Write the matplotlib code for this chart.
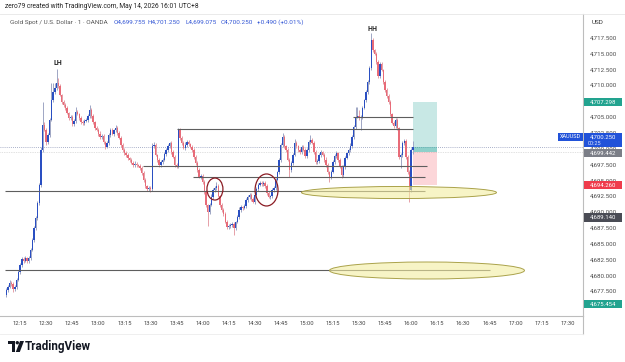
import matplotlib
matplotlib.use("Agg")
import matplotlib.pyplot as plt
from matplotlib.patches import Rectangle, Ellipse, Circle, Polygon
import numpy as np

# ---------------- data ----------------
start_minute = 12 * 60 + 7          # first 1-minute candle 12:07
first_open = 4676.9
closes = [
    4677.7, 4678.2, 4678.8, 4678.6, 4677.8, 4678.2, 4679.3, 4680.5, 4681.6, 4682.6,
    4682.3, 4682.7, 4682.3, 4682.7, 4684.0, 4685.6, 4687.5, 4689.0, 4691.4, 4694.2,
    4699.8, 4703.7, 4702.9, 4701.0, 4702.1, 4704.5, 4707.6, 4708.9, 4709.5, 4710.3,
    4709.9, 4708.4, 4707.3, 4706.9, 4706.4, 4705.6, 4704.8, 4705.0, 4703.9, 4704.3,
    4705.8, 4705.4, 4704.8, 4704.2, 4704.0, 4704.3, 4704.5, 4705.1, 4706.1, 4705.1,
    4704.2, 4703.2, 4702.9, 4702.3, 4701.8, 4702.0, 4701.0, 4700.2, 4700.9, 4702.1,
    4702.9, 4702.3, 4702.9, 4703.2, 4702.4, 4701.7, 4700.6, 4699.8, 4699.3, 4699.0,
    4698.5, 4698.2, 4697.7, 4697.4, 4697.6, 4697.4, 4697.2, 4696.9, 4696.1, 4695.0,
    4694.1, 4693.6, 4693.8, 4693.6, 4700.4, 4700.6, 4699.0, 4698.2, 4697.4, 4697.9,
    4698.2, 4699.1, 4699.8, 4700.4, 4700.9, 4699.4, 4698.7, 4697.4, 4697.2, 4702.9,
    4701.7, 4700.9, 4700.1, 4700.6, 4701.0, 4700.7, 4700.2, 4699.8, 4698.7, 4697.7,
    4696.6, 4695.5, 4695.7, 4694.7, 4693.1, 4691.1, 4690.0, 4691.1, 4692.4, 4693.5,
    4693.8, 4694.1, 4692.5, 4691.1, 4690.3, 4689.7, 4688.4, 4687.6, 4687.8, 4687.9,
    4688.1, 4687.5, 4688.4, 4689.2, 4690.3, 4690.8, 4690.6, 4690.9, 4691.9, 4692.4,
    4692.7, 4692.0, 4691.6, 4692.7, 4693.6, 4694.2, 4694.6, 4694.4, 4694.6, 4694.1,
    4693.0, 4692.4, 4692.5, 4693.5, 4693.8, 4695.0, 4696.3, 4698.2, 4700.6, 4701.8,
    4700.4, 4699.8, 4698.2, 4696.6, 4697.7, 4699.0, 4700.9, 4700.4, 4699.8, 4699.4,
    4700.2, 4699.8, 4698.8, 4699.8, 4701.0, 4701.3, 4700.9, 4699.4, 4697.9, 4698.0,
    4699.0, 4699.4, 4699.0, 4698.2, 4697.4, 4696.3, 4695.5, 4696.3, 4697.9, 4698.8,
    4699.3, 4698.2, 4697.1, 4695.8, 4697.1, 4698.5, 4699.3, 4699.8, 4700.4, 4701.8,
    4703.4, 4705.0, 4705.1, 4704.8, 4705.0, 4706.4, 4707.6, 4708.9, 4710.5, 4712.7,
    4717.1, 4715.5, 4714.9, 4713.6, 4711.4, 4713.3, 4712.4, 4710.5, 4709.2, 4708.3,
    4707.3, 4705.4, 4704.0, 4703.5, 4704.5, 4703.2, 4698.7, 4699.0, 4700.9, 4701.2,
    4698.7, 4696.3, 4693.4, 4699.755, 4700.25,
]
upper_wick = [
    .3, .2, .4, .3, .3, .2, .3, .3, .4, .3,
    .3, .4, .2, .3, .3, .2, .3, .3, .3, .4,
    .5, 3.6, .5, .3, .4, .3, 2.8, 1.5, .8, 2.2,
    .8, .3, .2, .4, .3, .3, .2, .3, .3, .3,
    .7, .3, .2, .3, .3, .4, .3, .3, .8, .3,
    .3, .2, .3, .3, .4, .3, .3, .2, .3, .4,
    .3, .3, .2, .5, .3, .3, .3, .2, .3, .3,
    .3, .2, .3, .3, .4, .3, .2, .3, .3, .3,
    .3, .2, .3, .3, .5, .4, .3, .2, .3, .3,
    .3, .3, .2, .3, .1, .3, .3, .2, .3, .4,
    .3, .2, .3, .4, .3, .3, .2, .3, .3, .3,
    .3, .3, .2, .3, .3, .3, .2, .3, .4, .3,
    .3, .6, .3, .2, .3, .3, .2, .3, .3, .3,
    .3, .3, .2, .3, .4, .3, .2, .3, .3, .3,
    .3, .2, .3, .3, .3, .4, .3, .2, .3, .3,
    .3, .3, .2, .3, .3, .3, .2, .3, .3, .6,
    .3, .2, .3, .3, .3, .3, .6, .3, .2, .3,
    .3, .3, .2, .3, .3, .8, .3, .2, .3, .3,
    .3, .3, .2, .3, .4, .3, .2, .3, .3, .3,
    .3, .2, .3, .3, .3, .3, .2, .3, .4, .3,
    .3, 1.5, 1.4, 1.0, .3, .3, .2, .3, .3, .3,
    1.1, .3, .2, .3, .3, .4, .3, .2, .3, .3,
    .3, .3, .2, .3, .3, .3, .2, .3, .3, .3,
    .3, .2, .3, .3, 1.0,
]
lower_wick = [
    .3, .3, .2, .3, .5, .3, .3, .2, .3, .3,
    .3, .2, .3, .3, .3, .2, .3, .3, .3, .3,
    .3, .3, .2, .4, .3, .3, .2, .3, .3, .3,
    .3, .2, .3, .3, .3, .2, .3, .3, .3, .3,
    .3, .2, .3, .3, .3, .3, .2, .3, .3, .3,
    .3, .3, .2, .3, .3, .3, .3, .3, .2, .3,
    .3, .2, .3, .3, .3, .2, .3, .3, .3, .3,
    .3, .3, .2, .3, .3, .3, .2, .3, .3, .3,
    .3, .3, .3, .4, .3, .3, .2, .3, .3, .3,
    .3, .2, .3, .3, .3, .3, .2, .3, .3, .3,
    .3, .3, .2, .3, .3, .3, .2, .3, .3, .3,
    .3, .2, .3, .3, .3, .3, 2.3, .3, .2, .3,
    .3, .3, .2, .3, .3, .3, .2, .3, .3, .3,
    .3, 1.1, .3, .2, .3, .3, .3, .2, .3, .3,
    .3, .3, .2, .3, .3, .3, .2, .3, .3, .3,
    .3, .2, .3, .3, .3, .3, .2, .3, .3, .3,
    .3, .3, .2, 1.1, .3, .3, .2, .3, .3, .3,
    .3, .2, .3, .3, .3, .3, .2, .3, .3, .3,
    .3, .3, .2, .3, .3, .3, .8, .3, .2, .3,
    .3, .3, .2, .5, .3, .3, .2, .3, .3, .3,
    .3, .3, .2, .3, 1.9, .3, .2, .3, .3, .3,
    .3, .3, .2, .3, .3, .3, .2, .3, .3, .3,
    .3, .3, .2, .3, .3, .3, .3, 1.8, .3, .3,
    .3, .3, 1.8, .2, .68,
]

time_labels = ["12:15", "12:30", "12:45", "13:00", "13:15", "13:30", "13:45", "14:00",
               "14:15", "14:30", "14:45", "15:00", "15:15", "15:30", "15:45", "16:00",
               "16:15", "16:30", "16:45", "17:00", "17:15", "17:30"]
price_ticks = [4677.5, 4680.0, 4682.5, 4685.0, 4687.5, 4690.0, 4692.5, 4695.0, 4697.5,
               4700.0, 4702.5, 4705.0, 4707.5, 4710.0, 4712.5, 4715.0, 4717.5]

# drawn levels: price, start time, end time (minutes since midnight)
level_prices = [4693.3, 4680.83, 4703.07, 4705.0, 4697.2, 4695.45]
level_starts = [726.3, 726.3, 825.3, 926.5, 805.7, 834.5]
level_ends = [968.0, 1005.4, 961.1, 961.1, 969.1, 968.0]

current_price = 4700.25
entry_price = 4699.442
target_price = 4707.298
stop_price = 4694.260
other_label_prices = [4689.140, 4675.454]

header_title = "zero79 created with TradingView.com, May 14, 2026 16:01 UTC+8"
symbol_text = "Gold Spot / U.S. Dollar · 1 · OANDA"
ohlc_texts = ["O4,699.755", "H4,701.250", "L4,699.075", "C4,700.250", "+0.490 (+0.01%)"]

# ---------------- figure ----------------
plt.rcParams['font.family'] = ['Roboto', 'DejaVu Sans']
W, H = 625, 362
fig = plt.figure(figsize=(W / 100, H / 100), dpi=100)
fig.patch.set_facecolor('white')

ax_left, ax_right, ax_top, ax_bottom = 0, 583, 14, 316
ax = fig.add_axes([ax_left / W, 1 - ax_bottom / H, (ax_right - ax_left) / W, (ax_bottom - ax_top) / H])
ax.set_facecolor('white')

n = len(closes)
t = np.arange(n) + start_minute
c = np.array(closes)
o = np.array([first_open] + closes[:-1])
hi = np.maximum(o, c) + np.array(upper_wick)
lo = np.minimum(o, c) - np.array(lower_wick)
up = c >= o
UP, DN = '#2a4fc2', '#e86b78'
WUP, WDN = '#9ea6c4', '#e6a0a8'
body_col = np.where(up, UP, DN)
wick_col = np.where(up, WUP, WDN)

ax.vlines(t, lo, hi, colors=wick_col, lw=0.7, zorder=2)
ax.bar(t, np.maximum(np.abs(c - o), 0.1), bottom=np.minimum(o, c), width=0.78,
       color=body_col, lw=0, zorder=3)

# scale: pixel 0..583 <-> minutes, pixel 14..316 <-> price
px_per_min = 1.738
x0_min = start_minute - 6.2 / px_per_min
ax.set_xlim(x0_min, x0_min + 583 / px_per_min)
ax.set_ylim(4717.5 - (316 - 37.5) / 6.34, 4717.5 + (37.5 - 14) / 6.34)

# dotted current price lines
ax.axhline(current_price, color='#8e97b8', lw=0.6, ls=(0, (1, 1.5)), zorder=1)
ax.axhline(entry_price, color='#c4c4c4', lw=0.5, ls=(0, (1, 1.5)), zorder=1)

# horizontal levels
ax.hlines(level_prices, level_starts, level_ends, color='#5e5e5e', lw=0.8, zorder=4)

# position tool
px0, px1 = 961.1, 974.9
ax.add_patch(Rectangle((px0, entry_price), px1 - px0, target_price - entry_price,
                       facecolor='#26a69a', alpha=0.25, lw=0, zorder=1))
ax.add_patch(Rectangle((px0, entry_price), px1 - px0, current_price - entry_price,
                       facecolor='#26a69a', alpha=0.35, lw=0, zorder=1))
ax.add_patch(Rectangle((px0, stop_price), px1 - px0, entry_price - stop_price,
                       facecolor='#f23645', alpha=0.2, lw=0, zorder=1))

# ellipses
for cx, cy, w, h in [(953.0, 4693.05, 112.2, 1.9), (969.1, 4680.75, 112.2, 2.68)]:
    ax.add_patch(Ellipse((cx, cy), w, h, facecolor='#f3eda0', alpha=0.6, edgecolor='none', zorder=5))
    ax.add_patch(Ellipse((cx, cy), w, h, facecolor='none', edgecolor='#aaa24a', lw=0.7, zorder=5))

# circles
for cx, cy, w, h in [(847.1, 4693.6, 9.2, 3.47), (876.8, 4693.45, 13.2, 5.05)]:
    ax.add_patch(Ellipse((cx, cy), w, h, facecolor='none', edgecolor='#8b1c24', lw=0.9, zorder=6))

ax.text(756.8, 4713.5, "LH", ha='center', va='center', fontsize=5, fontweight='bold', color='#222', zorder=7)
ax.text(938.0, 4718.84, "HH", ha='center', va='center', fontsize=5, fontweight='bold', color='#222', zorder=7)

# axes styling
xt = [735 + 15 * k for k in range(len(time_labels))]
ax.set_xticks(xt)
ax.set_xticklabels(time_labels, fontsize=4.2, color='#444')
ax.yaxis.tick_right()
ax.set_yticks(price_ticks)
ax.set_yticklabels([f"{p:,.3f}" for p in price_ticks], fontsize=4.4, color='#4a4a4a')
ax.tick_params(axis='x', length=0, pad=3.5)
ax.tick_params(axis='y', length=0, pad=5)
for s in ['top', 'left']:
    ax.spines[s].set_visible(False)
ax.spines['right'].set_color('#bdbdbd')
ax.spines['bottom'].set_color('#bdbdbd')
ax.spines['right'].set_linewidth(0.8)
ax.spines['bottom'].set_linewidth(0.8)

# ---------------- overlay (pixel coordinates) ----------------
ov = fig.add_axes([0, 0, 1, 1], zorder=10)
ov.set_xlim(0, W)
ov.set_ylim(H, 0)
ov.axis('off')
ov.patch.set_alpha(0)

fig.canvas.draw()
def py(p):
    return H - ax.transData.transform((x0_min, p))[1]

ov.plot([0, W], [14, 14], color='#e6e6e6', lw=0.6)
ov.plot([583, 583], [316, 334], color='#bdbdbd', lw=0.8)
ov.plot([0, 583], [334, 334], color='#ececec', lw=0.6)

ov.text(5, 7, header_title, fontsize=4.8, color='#222', va='center', ha='left')
ov.text(10, 22.5, symbol_text, fontsize=4.6, color='#555', va='center', ha='left')
for xx, s in zip([114, 147, 186, 221, 257], ohlc_texts):
    ov.text(xx, 22.5, s, fontsize=4.6, color='#3457d5', va='center', ha='left')
ov.text(592, 23, "USD", fontsize=4.6, color='#333', va='center', ha='left')

def price_box(yc, text, color, h=8.6, x0=584, x1=622):
    ov.add_patch(Rectangle((x0, yc - h / 2), x1 - x0, h, facecolor=color, lw=0))
    ov.text((x0 + x1) / 2, yc, text, fontsize=4.3, color='white', ha='center', va='center')

price_box(py(target_price), f"{target_price:,.3f}", '#22a38f')
price_box(py(entry_price) + 0.8, f"{entry_price:,.3f}", '#7b7e87', h=8)
price_box(py(stop_price), f"{stop_price:,.3f}", '#ef3c4c')
price_box(py(other_label_prices[0]), f"{other_label_prices[0]:,.3f}", '#4a4c55')
price_box(py(other_label_prices[1]), f"{other_label_prices[1]:,.3f}", '#22a38f')
# current price (two lines) and symbol tag
yb = py(current_price) - 14.0
ov.add_patch(Rectangle((584, yb), 38, 14.6, facecolor='#2152d9', lw=0))
ov.text(603, yb + 3.8, f"{current_price:,.3f}", fontsize=4.3, color='white', ha='center', va='center')
ov.text(588, yb + 10.6, "00:25", fontsize=4.0, color='#dfe6ff', ha='left', va='center')
ov.add_patch(Rectangle((558, yb), 24.5, 8, facecolor='#2152d9', lw=0))
ov.text(570.2, yb + 4, "XAUUSD", fontsize=4.0, color='white', ha='center', va='center')

# TradingView logo
ov.add_patch(Rectangle((8, 341), 7, 3, facecolor='#131722', lw=0))
ov.add_patch(Rectangle((11.5, 341), 3.5, 11, facecolor='#131722', lw=0))
ov.add_patch(Circle((17.3, 342.7), 1.7, facecolor='#131722', lw=0))
ov.add_patch(Polygon([(20.0, 341), (24.0, 341), (19.8, 352), (15.8, 352)], closed=True,
                     facecolor='#131722', lw=0))
ov.text(25, 346.5, "TradingView", fontsize=8.4, fontweight='bold', color='#131722',
        va='center', ha='left')

fig.savefig("out.png", dpi=100, facecolor='white')
